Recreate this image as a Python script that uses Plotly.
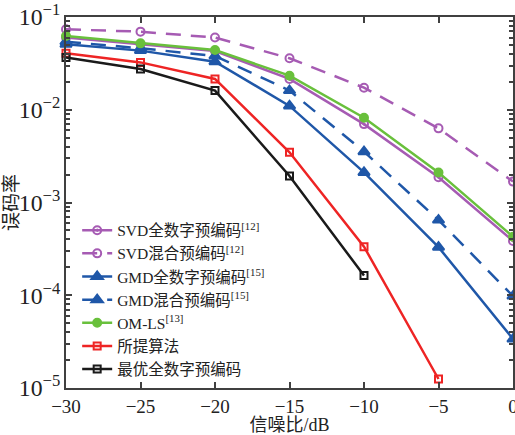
import plotly.graph_objects as go

snr = [-30, -25, -20, -15, -10, -5, 0]
svd_full = [0.060, 0.051, 0.043, 0.0215, 0.0070, 0.00187, 0.000385]
svd_hybrid = [0.0736, 0.0695, 0.060, 0.0359, 0.0173, 0.0063, 0.00168]
gmd_full = [0.0507, 0.0434, 0.033, 0.011, 0.00211, 0.00033, 0.0000337]
gmd_hybrid = [0.0542, 0.046, 0.038, 0.0161, 0.00353, 0.000647, 0.000098]
om_ls = [0.0624, 0.052, 0.044, 0.0233, 0.0082, 0.00211, 0.000428]
snr_prop = [-30, -25, -20, -15, -10, -5]
proposed = [0.0406, 0.0324, 0.0215, 0.00348, 0.000334, 0.0000125]
snr_opt = [-30, -25, -20, -15, -10]
optimal = [0.0367, 0.0275, 0.0161, 0.00193, 0.000163]

names = ["SVD全数字预编码<sup>[12]</sup>", "SVD混合预编码<sup>[12]</sup>",
         "GMD全数字预编码<sup>[15]</sup>", "GMD混合预编码<sup>[15]</sup>",
         "OM-LS<sup>[13]</sup>", "所提算法", "最优全数字预编码"]
y_title = "误码率"
x_title = "信噪比/dB"

purple = "#A65BB3"
blue = "#1F57A8"
green = "#69C03C"
red = "#EE2424"
black = "#1A1A1A"
dash = "15px,10px"

series = [
    (snr, svd_full, names[0], purple, "solid", "circle-open-dot", 8),
    (snr, svd_hybrid, names[1], purple, dash, "circle-open", 8),
    (snr, gmd_full, names[2], blue, "solid", "triangle-up", 10),
    (snr, gmd_hybrid, names[3], blue, dash, "triangle-up", 10),
    (snr, om_ls, names[4], green, "solid", "circle", 8),
    (snr_prop, proposed, names[5], red, "solid", "square-open", 7),
    (snr_opt, optimal, names[6], black, "solid", "square-open", 7),
]

fig = go.Figure()
for x, y, n, c, d, m, s in series:
    fig.add_trace(go.Scatter(
        x=x, y=y, name=n, mode="lines+markers", cliponaxis=False,
        line=dict(color=c, width=2.5, dash=d),
        marker=dict(symbol=m, size=s, color=c, line=dict(color=c, width=2)),
    ))

font_family = "Liberation Serif, Times New Roman, Noto Sans CJK SC, serif"
axis_col = "#404040"

fig.update_layout(
    width=515, height=435,
    margin=dict(l=66, r=2, t=17, b=47),
    plot_bgcolor="white", paper_bgcolor="white",
    font=dict(family=font_family, size=17, color="#222222"),
    showlegend=True,
    legend=dict(x=0.025, y=0.47, xanchor="left", yanchor="top",
                bgcolor="rgba(0,0,0,0)", borderwidth=0,
                font=dict(size=15.5, family=font_family),
                tracegroupgap=0, itemwidth=30),
    xaxis=dict(
        range=[-30, 0], tickvals=[-30, -25, -20, -15, -10, -5, 0],
        ticks="inside", ticklen=6, tickwidth=1.5, tickcolor=axis_col,
        showline=True, linecolor=axis_col, linewidth=2, mirror="ticks",
        showgrid=False, zeroline=False, ticklabeloverflow="allow", automargin=False,
        tickfont=dict(size=19, family=font_family),
        title=dict(text=x_title, font=dict(size=18, family=font_family), standoff=4),
    ),
    yaxis=dict(
        type="log", range=[-5, -1], dtick=1, exponentformat="power",
        ticks="inside", ticklen=6, tickwidth=1.5, tickcolor=axis_col,
        showline=True, linecolor=axis_col, linewidth=2, mirror="ticks",
        showgrid=False, zeroline=False, automargin=False,
        minor=dict(ticks="inside", ticklen=4, tickcolor=axis_col, dtick="D1", showgrid=False),
        tickfont=dict(size=19, family=font_family),
    ),
    annotations=[dict(
        text=y_title, xref="paper", yref="paper", x=-0.122, y=0.5,
        xanchor="center", yanchor="middle", textangle=-90, showarrow=False,
        font=dict(size=19, family=font_family, color="#222222"),
    )],
)

fig.write_html("out.html")
